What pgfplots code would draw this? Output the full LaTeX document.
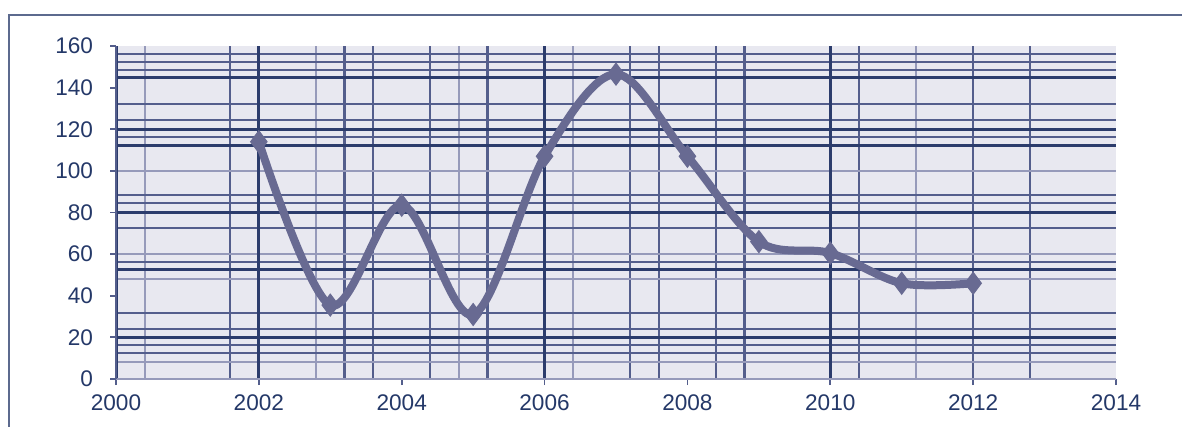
\documentclass[border=0pt]{standalone}
\usepackage{pgfplots}
\pgfplotsset{compat=1.18}
\usepackage{fontspec}
\setmainfont{Liberation Sans}

\definecolor{gridDark}{RGB}{44,60,108}
\definecolor{gridMid}{RGB}{84,94,140}
\definecolor{gridLight}{RGB}{150,154,186}
\definecolor{paper}{RGB}{232,232,240}
\definecolor{series}{RGB}{104,106,146}
\definecolor{labelblue}{RGB}{36,56,104}
\definecolor{frameline}{RGB}{92,106,142}

\pgfplotsset{
  paperaxis/.style={
    scale only axis, width=500bp, height=166.5bp,
    xmin=2000, xmax=2014, ymin=0, ymax=160,
    at={(58bp,24bp)}, anchor=south west,
  }
}

\begin{document}
\begin{tikzpicture}
\useasboundingbox (0,0) rectangle (591bp,213.5bp);
% outer chart frame
\draw[frameline, line width=1.2bp] (4.5bp,0) -- (4.5bp,206bp) -- (591bp,206bp);

% ruled graph-paper background
\begin{axis}[paperaxis,
  axis background/.style={fill=paper},
  axis line style={draw=none},
  major tick length=0pt, minor tick length=0pt,
  xticklabels={}, yticklabels={},
  xtick={2000.4,2002.8,2004.8,2006.4,2011.2},
  ytick={0,8.2,48.1,60,100},
  minor xtick={2001.6,2003.2,2003.6,2004.4,2005.2,2007.2,2007.6,2008.4,2008.8,2010.4,2012,2012.8},
  minor ytick={12.5,16.3,24,31.7,56.2,72.6,84.6,88.4,116.3,124.5,132.2,148.5,152.3,156.2},
  extra x ticks={2000,2002,2006,2010},
  extra y ticks={20,52.4,80,112.4,120,144.7},
  extra x tick labels={}, extra y tick labels={},
  extra tick style={grid=major, major grid style={gridDark, line width=1.5bp}},
  grid=both,
  major grid style={gridLight, line width=1bp},
  minor grid style={gridMid, line width=1.1bp},
]
\end{axis}

% data
\begin{axis}[paperaxis,
  axis x line=bottom, axis y line=left,
  axis line style={-},
  x axis line style={gridLight, line width=0.8bp},
  y axis line style={gridMid, line width=1bp},
  xtick={2000,2002,...,2014}, ytick={0,20,...,160},
  tick align=outside, major tick length=3bp,
  tick style={gridMid, line width=0.9bp},
  /pgf/number format/assume math mode=true,
  /pgf/number format/1000 sep={},
  tick label style={labelblue, font=\fontsize{11.3bp}{13bp}\selectfont},
  xticklabel style={yshift=-1.5bp},
  yticklabel style={xshift=-5bp},
]
\addplot[series, line width=4bp, smooth, tension=0.55,
  mark=diamond*, mark size=5.5bp,
  mark options={solid, fill=series, draw=series, line width=0.5bp}]
  coordinates {
    (2002,114) (2003,35.5) (2004,83.5) (2005,31) (2006,107)
    (2007,146.5) (2008,107) (2009,66) (2010,60.5) (2011,46) (2012,46)
  };
\end{axis}
\end{tikzpicture}
\end{document}
